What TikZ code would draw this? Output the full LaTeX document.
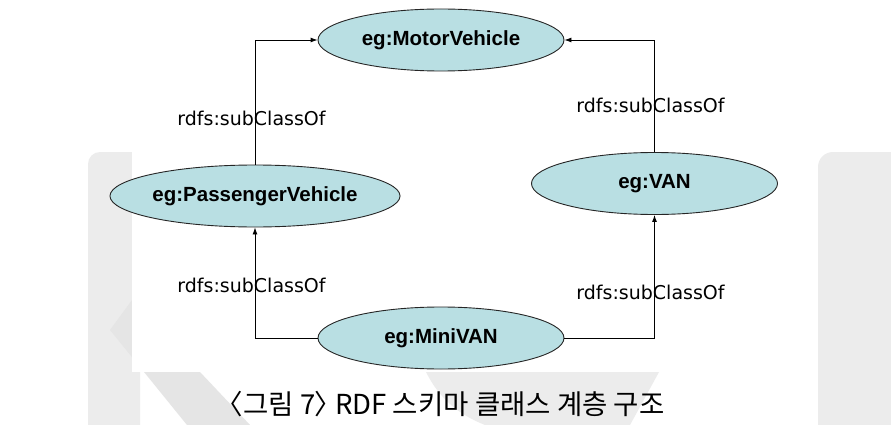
\documentclass[tikz,border=0pt]{standalone}
\usepackage{fontspec}
\setmainfont{Liberation Sans}
\newfontfamily\lblfont{DejaVu Sans}
\newfontfamily\krfont{Noto Sans CJK KR}
\usetikzlibrary{arrows.meta,shapes.geometric}
\definecolor{nodefill}{RGB}{185,223,227}
\definecolor{wmA}{RGB}{236,236,236}
\definecolor{wmB}{RGB}{229,229,229}
\begin{document}
\begin{tikzpicture}[x=1pt,y=-1pt,
  cls/.style={ellipse, draw=black!85, line width=0.9pt, fill=nodefill,
    minimum width=246pt, minimum height=62pt, inner sep=0pt,
    font=\fontsize{20.5}{24}\selectfont\bfseries},
  rel/.style={font=\lblfont\fontsize{19}{22}\selectfont, inner sep=0pt},
  conn/.style={draw=black, line width=0.9pt, -{Latex[length=7pt,width=5pt]}},
  capt/.style={font=\krfont\fontsize{27.5}{32}\selectfont, inner sep=0pt, anchor=west}
]
\useasboundingbox (0,0) rectangle (891,425);
\fill[white] (0,0) rectangle (891,425);
% watermark
\fill[wmA] (88,425) -- (88,164) arc[start angle=180,end angle=270,radius=12] -- (140,152) -- (140,425) -- cycle;
\fill[wmB] (110,330) -- (187,425) -- (250,425) -- (200,372) -- (132,300) -- cycle;
\fill[wmA] (426,372) .. controls (440,400) and (460,415) .. (485,425) -- (630,425) -- (659,372) -- cycle;
\fill[wmA] (818,425) -- (818,167) arc[start angle=180,end angle=270,radius=15] -- (891,152) -- (891,425) -- cycle;
\fill[white] (132,0) rectangle (770,372);
% nodes
\node[cls] (motor) at (441,40) {eg:MotorVehicle};
\node[cls] (pass) at (255,196) {eg:PassengerVehicle};
\node[cls] (van) at (654.5,183.5) {eg:VAN};
\node[cls] (mini) at (441,338) {eg:MiniVAN};
% connectors
\draw[conn] (pass.north) |- (motor.west);
\draw[conn] (van.north) |- (motor.east);
\draw[conn] (mini.west) -| (pass.south);
\draw[conn] (mini.east) -| (van.south);
% labels
\node[rel] (l1) at (251.5,118) {rdfs:subClassOf};
\node[rel] (l2) at (650.5,105) {rdfs:subClassOf};
\node[rel] (l3) at (251.5,285) {rdfs:subClassOf};
\node[rel] (l4) at (650.5,292) {rdfs:subClassOf};
\node[capt] (cap) at (228,404) {\hspace*{-0.45em}〈그림 7\hspace{-0.05em}〉\hspace{-0.45em} RDF 스키마 클래스 계층 구조};
\end{tikzpicture}
\end{document}
